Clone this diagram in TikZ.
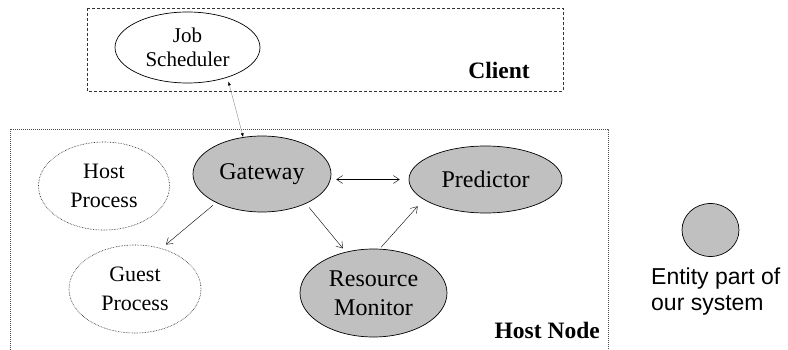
\documentclass[tikz,border=0pt]{standalone}
\usepackage{fontspec}
\setmainfont{Liberation Serif}
\newfontfamily\legendfont{Liberation Sans}
\usetikzlibrary{shapes.geometric,arrows.meta}
\definecolor{entgray}{RGB}{192,192,192}
\begin{document}
\begin{tikzpicture}[x=1pt,y=-1pt,
  ent/.style={ellipse,draw=black,line width=0.7pt,fill=entgray,inner sep=0pt,align=center,font=\fontsize{24}{29}\selectfont},
  ext/.style={ellipse,draw=black!90,densely dotted,line width=0.6pt,inner sep=0pt,align=center,font=\fontsize{22}{29}\selectfont},
  conn/.style={line width=0.4pt,-{Straight Barb[length=6pt,width=8pt]}},
  dconn/.style={line width=0.4pt,{Straight Barb[length=6pt,width=8pt]}-{Straight Barb[length=6pt,width=8pt]}},
  jconn/.style={line width=0.4pt,draw=black!45,{Latex[length=4pt,width=3pt,black]}-{Latex[length=4pt,width=3pt,black]}},
  clientbox/.style={draw=black!80,line width=0.6pt,dash pattern=on 3pt off 2pt},
  hostbox/.style={draw=black!70,line width=0.6pt,dash pattern=on 1.2pt off 0.8pt},
  boxlabel/.style={font=\bfseries\fontsize{23.5}{28}\selectfont,anchor=base east,inner sep=0pt}
]
\useasboundingbox (0,0) rectangle (788,350);
\fill[white] (0,0) rectangle (788,350);

% boxes
\draw[clientbox] (87,8) rectangle (563,91);
\begin{scope}
  \clip (0,0) rectangle (788,350);
  \draw[hostbox] (10,129) rectangle (608,400);
\end{scope}
\node[boxlabel] (clientlbl) at (530,79) {Client};
\node[boxlabel] (hostlbl) at (600,338) {Host Node};

% nodes
\node[ellipse,draw=black,line width=0.7pt,inner sep=0pt,minimum width=145,minimum height=71,align=center,font=\fontsize{21}{24}\selectfont] (js) at (187.5,47.5) {Job\\Scheduler};
\node[ent,minimum width=138,minimum height=76] (gw) at (262,174) {Gateway};
\node[ent,minimum width=153,minimum height=67] (pred) at (485.5,179.5) {Predictor};
\node[ent,minimum width=147,minimum height=88] (rm) at (373.5,293) {Resource\\Monitor};
\node[ext,minimum width=131,minimum height=88] (hp) at (104,186) {Host\\Process};
\node[ext,minimum width=132,minimum height=88] (gp) at (135,289) {Guest\\Process};

% legend
\node[ellipse,draw=black,line width=0.7pt,fill=entgray,inner sep=0pt,minimum width=57,minimum height=53] (lg) at (710.5,230) {};
\node[anchor=west,inner sep=0pt,align=left,font=\legendfont\fontsize{23}{26}\selectfont] (lgtext) at (651,292) {Entity part of\\our system};

% connectors
\draw[jconn,shorten <=4pt] (js.-37.4) -- (gw.117.5);
\path (gw.east |- pred.center) coordinate (gwp);
\draw[dconn] ([xshift=5pt]gwp) -- ([xshift=-9pt]pred.west);
\draw[conn,shorten <=4pt,shorten >=6pt] (gw.-148.6) -- (gp.57);
\draw[conn,shorten <=5pt,shorten >=4.5pt] (gw.-34.1) -- (rm.124.5);
\draw[conn,shorten <=2pt,shorten >=9pt] (rm.82.9) -- (pred.198.7);
\end{tikzpicture}
\end{document}
